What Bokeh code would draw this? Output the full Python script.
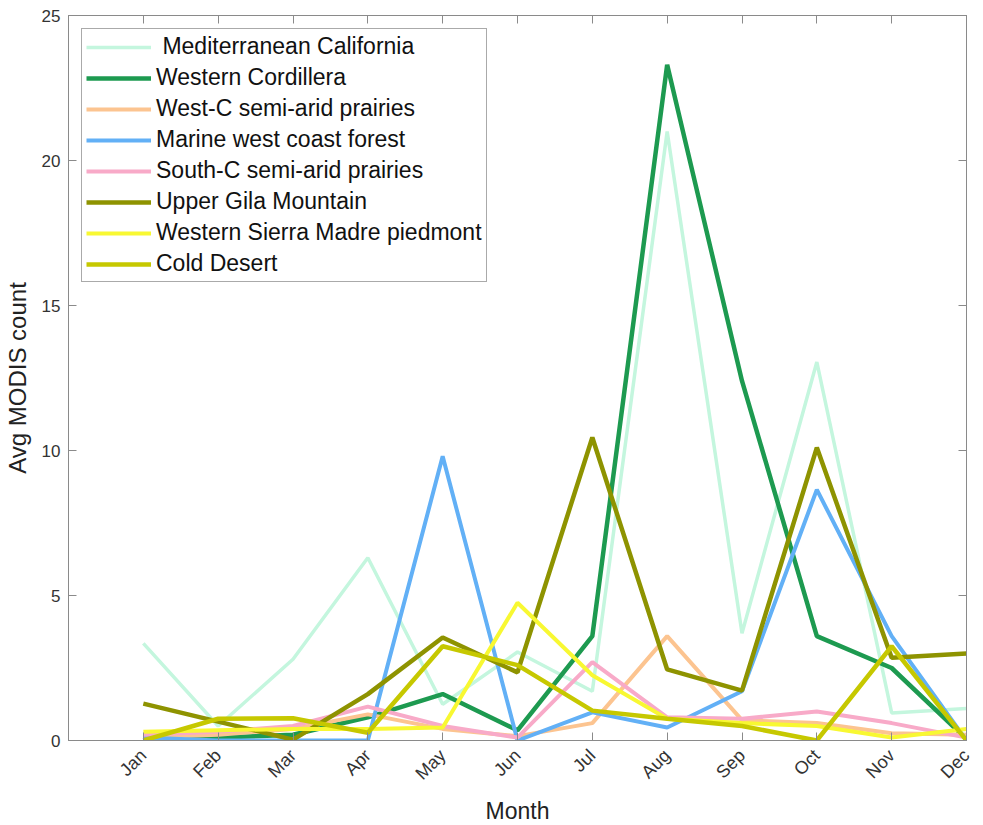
from bokeh.plotting import figure
from bokeh.models import LinearAxis, FixedTicker, Range1d
from bokeh.embed import file_html
from bokeh.resources import INLINE
import math

months = ["Jan", "Feb", "Mar", "Apr", "May", "Jun", "Jul", "Aug", "Sep", "Oct", "Nov", "Dec"]
month_pos = [1, 2, 3, 4, 5, 6, 7, 8, 9, 10, 11, 12]
y_ticks = [0, 5, 10, 15, 20, 25]

names = [
    "\u00a0Mediterranean California",
    "Western Cordillera",
    "West-C semi-arid prairies",
    "Marine west coast forest",
    "South-C semi-arid prairies",
    "Upper Gila Mountain",
    "Western Sierra Madre piedmont",
    "Cold Desert",
]

med_california = [3.35, 0.5, 2.8, 6.3, 1.25, 3.05, 1.7, 21.0, 3.7, 13.05, 0.95, 1.1]
western_cordillera = [0.1, 0.1, 0.2, 0.8, 1.6, 0.35, 3.6, 23.3, 12.4, 3.6, 2.5, 0.05]
westc_prairies = [0.1, 0.2, 0.4, 0.9, 0.4, 0.15, 0.6, 3.6, 0.7, 0.6, 0.25, 0.2]
marine_forest = [0.1, 0.0, 0.0, 0.0, 9.8, 0.0, 0.97, 0.45, 1.7, 8.65, 3.6, 0.0]
southc_prairies = [0.2, 0.3, 0.5, 1.17, 0.5, 0.1, 2.7, 0.8, 0.75, 1.0, 0.6, 0.1]
upper_gila = [1.27, 0.65, 0.03, 1.6, 3.55, 2.35, 10.45, 2.45, 1.72, 10.1, 2.85, 3.0]
sierra_madre = [0.3, 0.35, 0.4, 0.4, 0.45, 4.75, 2.25, 0.75, 0.6, 0.5, 0.1, 0.4]
cold_desert = [0.0, 0.75, 0.77, 0.27, 3.25, 2.6, 1.03, 0.75, 0.5, 0.0, 3.25, 0.0]

series = [med_california, western_cordillera, westc_prairies, marine_forest,
          southc_prairies, upper_gila, sierra_madre, cold_desert]
colors = ["#c4f6de", "#1d9a50", "#fcc490", "#62b0f6", "#f8aac8", "#8e9300", "#f8f832", "#c6c800"]
widths = [3.5, 4.5, 4, 4, 4, 4.5, 4, 4.5]

FONT = "Liberation Sans"

p = figure(frame_width=898, frame_height=725,
           min_border_left=68, min_border_right=17, min_border_top=15, min_border_bottom=85,
           x_range=Range1d(0, 12), y_range=Range1d(0, 25),
           output_backend="svg", toolbar_location=None,
           background_fill_color="white", border_fill_color="white")

for vals, name, c, w in zip(series, names, colors, widths):
    p.line(month_pos, vals, line_color=c, line_width=w, legend_label=name)

p.grid.visible = False
p.outline_line_color = "#8a8a8a"
p.outline_line_width = 1

p.xaxis.ticker = FixedTicker(ticks=month_pos)
p.xaxis.major_label_overrides = {m: lab for m, lab in zip(month_pos, months)}
p.xaxis.major_label_orientation = math.pi / 4
p.yaxis.ticker = FixedTicker(ticks=y_ticks)

for ax in [p.xaxis[0], p.yaxis[0]]:
    ax.axis_line_color = "#8a8a8a"
    ax.major_tick_line_color = "#8a8a8a"
    ax.major_tick_in = 8
    ax.major_tick_out = 0
    ax.minor_tick_line_color = None
    ax.major_label_text_font = FONT
    ax.major_label_text_color = "#333333"
    ax.axis_label_text_font = FONT
    ax.axis_label_text_font_style = "normal"
    ax.axis_label_text_color = "#222222"

p.xaxis.major_label_text_font_size = "18px"
p.yaxis.major_label_text_font_size = "17px"
p.xaxis.axis_label_text_font_size = "23px"
p.yaxis.axis_label_text_font_size = "24px"
p.xaxis.axis_label = "Month"
p.yaxis.axis_label = "Avg MODIS count"
p.xaxis.major_label_standoff = 12
p.yaxis.major_label_standoff = 8
p.xaxis.axis_label_standoff = 4
p.yaxis.axis_label_standoff = 8

top = LinearAxis(ticker=FixedTicker(ticks=month_pos))
right = LinearAxis(ticker=FixedTicker(ticks=y_ticks))
for ax in [top, right]:
    ax.major_label_text_font_size = "0px"
    ax.major_label_standoff = 0
    ax.axis_line_color = "#8a8a8a"
    ax.major_tick_line_color = "#8a8a8a"
    ax.major_tick_in = 8
    ax.major_tick_out = 0
    ax.minor_tick_line_color = None
p.add_layout(top, "above")
p.add_layout(right, "right")

lg = p.legend[0]
lg.location = "top_left"
lg.margin = 13
lg.padding = 4
lg.spacing = 4
lg.glyph_width = 65
lg.glyph_height = 20
lg.label_height = 20
lg.label_standoff = 5
lg.label_text_font = FONT
lg.label_text_font_size = "23px"
lg.label_text_color = "#111111"
lg.border_line_color = "#555555"
lg.border_line_width = 1
lg.background_fill_color = "white"
lg.background_fill_alpha = 1

open("out.html", "w").write(file_html(p, INLINE))
